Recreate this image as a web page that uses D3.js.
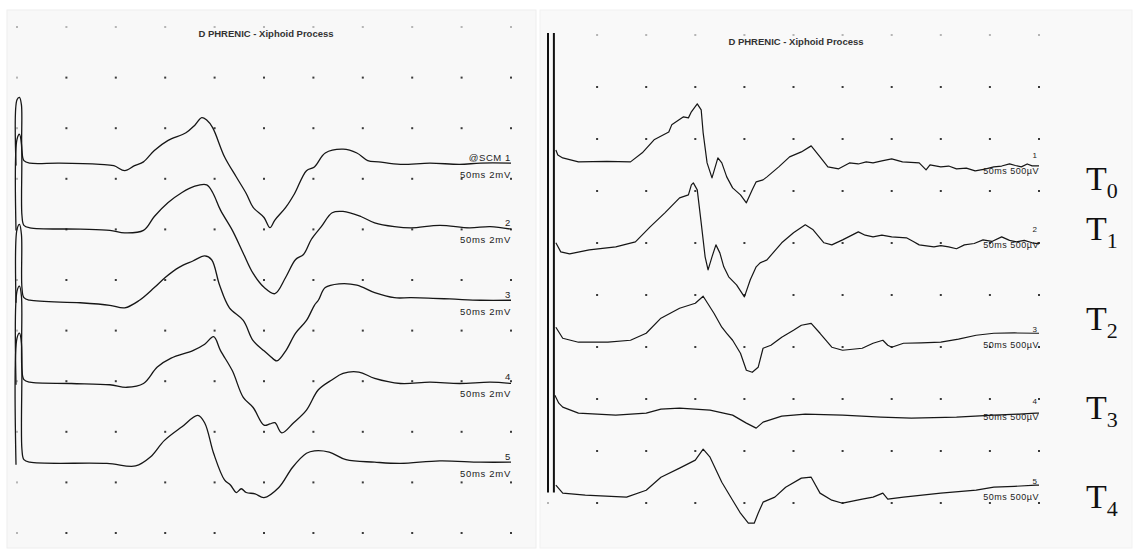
<!DOCTYPE html>
<html>
<head>
<meta charset="utf-8">
<script src="https://cdn.jsdelivr.net/npm/d3@7"></script>
<style>
  body { margin: 0; background: #fff; }
  svg { display: block; }
  text { font-family: "Liberation Sans", Arial, sans-serif; }
</style>
</head>
<body>
<svg id="chart" width="1134" height="551"></svg>
<script>
// ---- data: [time ms, amplitude] relative to each trace baseline ----
// left recording: amplitudes in mV (2 mV / div), 50 ms / div
const leftTrace1 = [[-1,-0.1],[0,2.5],[2.5,2.6],[4.5,2.3],[5,0.5],[7,0.1],[13,0],[43,0],[84,-0.05],[98,-0.1],[109,-0.3],[119,-0.1],[128,0.05],[139,0.5],[153,0.9],[171,1.2],[180,1.5],[187,1.8],[192,1.7],[198,1.4],[210,0.25],[222,-0.55],[232,-1.2],[239,-1.75],[250,-2.15],[256,-2.55],[261,-2.25],[272,-1.75],[281,-1.2],[293,-0.3],[301,-0.15],[312,0.4],[330,0.55],[344,0.4],[355,0.1],[366,0.05],[388,-0.05],[418,0],[448,-0.05],[469,0],[500,0]];
const leftTrace2 = [[-1,-0.1],[0,3.5],[2.5,3.7],[4.5,3.3],[5,0.5],[7,0.1],[13,0],[64,-0.05],[94,-0.1],[109,-0.2],[128,-0.1],[139,0.45],[153,1.0],[167,1.4],[180,1.65],[192,1.7],[198,1.4],[206,0.7],[218,-0.1],[229,-1.0],[239,-1.8],[250,-2.35],[261,-2.6],[272,-1.95],[282,-1.25],[290,-1.05],[298,-0.45],[308,0.05],[319,0.6],[330,0.65],[348,0.45],[362,0.2],[382,0.05],[399,0],[428,0.1],[458,0],[479,0.05],[500,-0.05]];
const leftTrace3 = [[-1,-0.1],[0,2.8],[2.5,3.0],[4.5,2.6],[5,0.5],[7,0.1],[13,0],[64,-0.1],[94,-0.2],[109,-0.3],[124,0],[139,0.5],[150,0.9],[164,1.3],[178,1.55],[190,1.75],[197,1.6],[205,0.6],[215,-0.3],[229,-0.8],[239,-1.6],[250,-2.0],[256,-2.2],[263,-2.4],[272,-2.0],[282,-1.3],[293,-0.8],[301,-0.2],[305,0],[312,0.5],[326,0.65],[344,0.6],[362,0.3],[382,0.1],[399,0.1],[438,0.05],[469,0],[500,0]];
const leftTrace4 = [[-1,-0.1],[0,3.6],[2.5,3.8],[4.5,3.4],[5,0.5],[7,0.1],[13,0],[55,-0.05],[94,-0.1],[111,-0.2],[128,-0.05],[142,0.6],[156,0.95],[178,1.25],[190,1.5],[199,1.8],[206,1.25],[218,0.45],[229,-0.6],[239,-1.0],[250,-1.7],[256,-1.65],[261,-1.6],[268,-2.0],[280,-1.6],[293,-1.1],[305,-0.3],[319,0.1],[330,0.35],[346,0.4],[362,0.15],[388,-0.05],[418,0],[448,-0.05],[479,0],[500,-0.05]];
const leftTrace5 = [[-1,-0.1],[0,4.9],[2.5,5.1],[4.5,4.7],[5,0.5],[7,0.1],[13,0],[91,-0.05],[120,-0.15],[135,0.2],[149,0.85],[167,1.4],[183,1.85],[190,1.55],[199,0.35],[210,-0.7],[216,-0.9],[222,-1.2],[227,-1.05],[232,-1.2],[241,-1.25],[250,-1.4],[265,-1.0],[279,-0.2],[293,0.35],[301,0.45],[316,0.4],[333,0.1],[362,0],[388,-0.05],[428,0.05],[469,0],[500,0]];

// right recording: amplitudes in µV (500 µV / div), 50 ms / div
const rightTrace1 = [[8,115],[10,67],[15,38],[31,0],[60,5],[84,0],[96,87],[108,212],[123,288],[126,356],[138,433],[143,423],[146,481],[152,558],[156,500],[158,279],[162,-10],[167,-154],[173,38],[177,-10],[182,-144],[188,-250],[196,-317],[202,-394],[208,-269],[212,-192],[219,-173],[223,-144],[235,-48],[246,48],[258,96],[268,154],[277,48],[285,-48],[296,-67],[307,-10],[316,-20],[324,0],[331,-10],[340,10],[350,29],[361,0],[378,-10],[385,-77],[389,-29],[400,-48],[408,-40],[416,-67],[426,-60],[435,-87],[445,-70],[454,-48],[462,-40],[470,-19],[476,-35],[482,-48],[488,-20],[493,-38],[500,-38]];
const rightTrace2 = [[8,87],[13,0],[22,-19],[42,19],[69,48],[89,96],[104,240],[119,375],[134,519],[143,548],[146,644],[148,663],[152,596],[156,279],[160,-48],[163,-173],[167,-48],[171,67],[175,-10],[179,-144],[184,-240],[192,-317],[200,-433],[206,-269],[212,-144],[216,-106],[223,-77],[238,87],[250,183],[262,260],[270,212],[281,87],[289,67],[300,115],[316,192],[323,160],[331,144],[340,160],[350,144],[365,135],[372,100],[378,67],[393,48],[400,60],[408,48],[416,30],[424,67],[434,80],[443,115],[452,100],[462,144],[470,110],[477,96],[485,110],[493,87],[500,77]];
const rightTrace3 = [[8,125],[15,19],[31,-19],[61,-19],[84,0],[100,67],[115,212],[134,308],[150,356],[158,423],[169,260],[177,125],[182,67],[188,0],[196,-125],[202,-288],[208,-308],[214,-260],[219,-77],[227,-48],[238,29],[250,96],[258,144],[268,163],[277,67],[289,-67],[300,-96],[320,-77],[331,-29],[341,0],[346,-48],[350,-67],[362,-29],[380,-25],[400,-19],[418,10],[436,48],[454,67],[475,70],[497,67],[500,67]];
const rightTrace4 = [[7,192],[11,115],[15,77],[31,19],[69,0],[100,19],[115,58],[134,67],[165,48],[188,0],[202,-77],[212,-125],[219,-67],[238,-10],[262,10],[300,0],[339,-19],[370,-29],[416,-19],[454,0],[480,10],[497,19],[500,19]];
const rightTrace5 = [[8,87],[15,10],[38,-10],[80,-29],[100,38],[115,163],[134,250],[150,327],[158,433],[165,356],[177,115],[188,-58],[196,-183],[204,-279],[210,-279],[214,-183],[219,-77],[231,-29],[242,67],[258,154],[268,163],[277,10],[289,-58],[300,-87],[320,-48],[331,-29],[341,10],[346,-48],[362,-29],[400,10],[436,38],[454,67],[475,75],[497,87],[500,87]];

const leftTraces = [leftTrace1, leftTrace2, leftTrace3, leftTrace4, leftTrace5];
const rightTraces = [rightTrace1, rightTrace2, rightTrace3, rightTrace4, rightTrace5];

// baseline of each trace, in grid divisions from the top dot row
const leftOffsets = [2.69, 3.97, 5.40, 7.02, 8.60];
const rightOffsets = [2.44, 4.17, 5.87, 7.31, 8.83];
const leftLabels = ['@SCM 1', '2', '3', '4', '5'];
const rightLabels = ['1', '2', '3', '4', '5'];
const leftScaleText = '50ms 2mV';
const rightScaleText = '50ms 500µV';
const rightLabelRows = [2.62, 4.04, 5.96, 7.35, 8.88];
const sessionLabels = ['0', '1', '2', '3', '4'];
const sessionRows = [2.98, 3.94, 5.67, 7.38, 9.1];
const stimulusTimes = [0, 6];
const title = 'D PHRENIC - Xiphoid Process';

const svg = d3.select('#chart');

// panel backgrounds
svg.append('rect').attr('x', 7).attr('y', 10).attr('width', 529).attr('height', 538)
    .attr('fill', '#f8f8f8').attr('stroke', '#eeeeee');
svg.append('rect').attr('x', 540).attr('y', 10).attr('width', 592).attr('height', 538)
    .attr('fill', '#f9f9f9').attr('stroke', '#f1f1f1');

const xL = d3.scaleLinear().domain([0, 500]).range([17, 511]);
const yL = d3.scaleLinear().domain([0, 10]).range([27, 533]);
const xR = d3.scaleLinear().domain([0, 500]).range([548, 1039]);
const yR = d3.scaleLinear().domain([0, 9]).range([35, 503]);

function drawGrid(g, x, y, nRows) {
    const cols = d3.range(0, 501, 50);
    const rows = d3.range(0, nRows + 1);
    rows.forEach(r => {
        cols.forEach((c, i) => {
            g.append('rect')
                .attr('x', x(c) - 1).attr('y', y(r) - 1)
                .attr('width', 2).attr('height', 2)
                .attr('fill', (r === 0 || i === 0) ? '#b5b5b5' : '#3a3a3a');
        });
    });
}

const gL = svg.append('g');
const gR = svg.append('g');
drawGrid(gL, xL, yL, 10);
drawGrid(gR, xR, yR, 9);

// titles
gL.append('text').attr('x', 266).attr('y', 37).attr('text-anchor', 'middle')
    .attr('font-size', 9.5).attr('font-weight', 'bold').attr('fill', '#333').text(title);
gR.append('text').attr('x', 796).attr('y', 45).attr('text-anchor', 'middle')
    .attr('font-size', 9.5).attr('font-weight', 'bold').attr('fill', '#333').text(title);

// right panel stimulus marker (double bar)
stimulusTimes.forEach(t => {
    gR.append('line')
        .attr('x1', xR(t)).attr('x2', xR(t))
        .attr('y1', yR(-0.04)).attr('y2', yR(8.8))
        .attr('stroke', '#111').attr('stroke-width', 2);
});

// traces
leftTraces.forEach((tr, i) => {
    const line = d3.line()
        .x(d => xL(d[0]))
        .y(d => yL(leftOffsets[i] - d[1] / 2))
        .curve(d3.curveCatmullRom.alpha(0.5));
    gL.append('path').datum(tr).attr('d', line)
        .attr('fill', 'none').attr('stroke', '#161616').attr('stroke-width', 1.3)
        .attr('stroke-linejoin', 'round');
    gL.append('text').attr('x', xL(500)).attr('y', yL(leftOffsets[i]) - 2)
        .attr('text-anchor', 'end').attr('font-size', 9.5).attr('letter-spacing', 0.6)
        .attr('fill', '#222').text(leftLabels[i]);
    gL.append('text').attr('x', xL(500)).attr('y', yL(leftOffsets[i]) + 15)
        .attr('text-anchor', 'end').attr('font-size', 9.5).attr('letter-spacing', 0.7)
        .attr('fill', '#222').text(leftScaleText);
});

rightTraces.forEach((tr, i) => {
    const line = d3.line()
        .x(d => xR(d[0]))
        .y(d => yR(rightOffsets[i] - d[1] / 500));
    gR.append('path').datum(tr).attr('d', line)
        .attr('fill', 'none').attr('stroke', '#161616').attr('stroke-width', 1.2)
        .attr('stroke-linejoin', 'round');
    gR.append('text').attr('x', xR(500) - 2).attr('y', yR(rightLabelRows[i]) - 13)
        .attr('text-anchor', 'end').attr('font-size', 8).attr('fill', '#222').text(rightLabels[i]);
    gR.append('text').attr('x', xR(500)).attr('y', yR(rightLabelRows[i]) + 3)
        .attr('text-anchor', 'end').attr('font-size', 9).attr('letter-spacing', 0.5)
        .attr('fill', '#222').text(rightScaleText);
});

// session labels T0..T4
sessionLabels.forEach((s, i) => {
    const t = svg.append('text')
        .attr('x', 1086).attr('y', yR(sessionRows[i]))
        .style('font-family', '"Liberation Serif", "DejaVu Serif", serif')
        .attr('font-size', 34).attr('fill', '#111');
    t.append('tspan').text('T');
    t.append('tspan').attr('font-size', 22).attr('dy', 8).text(s);
});
</script>
</body>
</html>
